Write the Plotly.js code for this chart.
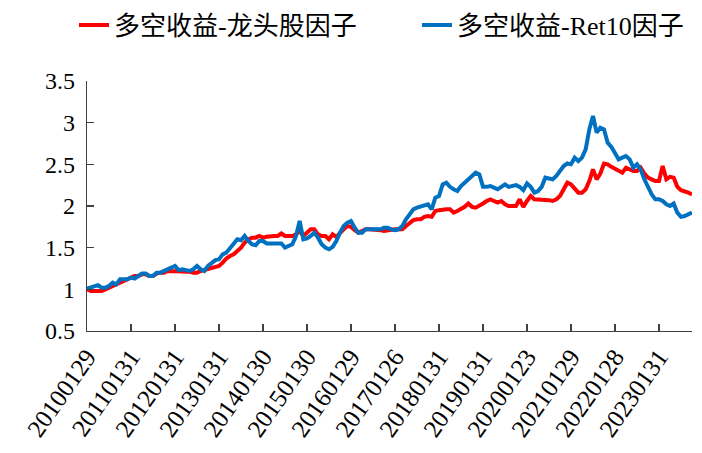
<!DOCTYPE html>
<html>
<head>
<meta charset="utf-8">
<script src="https://cdn.plot.ly/plotly-3.0.1.min.js"></script>
<style>html,body{margin:0;padding:0;background:#fff;}#chart{width:702px;height:453px;}</style>
</head>
<body>
<div id="chart"></div>
<script>
// Series names
const seriesNames = ["多空收益-龙头股因子", "多空收益-Ret10因子"];

// Tick labels shown on the x axis (every 12 months)
const tickLabels = ["20100129","20110131","20120131","20130131","20140130","20150130","20160129",
  "20170126","20180131","20190131","20200123","20210129","20220128","20230131"];

// Monthly long-short returns, 2010-01 .. 2023-10
const leaderValues = [
  1.00,0.98,0.98,0.98,0.98,1.00,1.02,1.04,1.06,1.08,1.10,1.12,
  1.14,1.16,1.16,1.18,1.18,1.16,1.16,1.19,1.20,1.20,1.22,1.22,
  1.22,1.22,1.22,1.22,1.21,1.20,1.20,1.22,1.23,1.24,1.25,1.26,
  1.28,1.32,1.37,1.40,1.42,1.46,1.50,1.56,1.60,1.62,1.62,1.64,
  1.62,1.63,1.64,1.64,1.64,1.67,1.64,1.64,1.64,1.66,1.70,1.64,
  1.68,1.72,1.72,1.66,1.64,1.64,1.60,1.66,1.63,1.68,1.72,1.76,
  1.75,1.71,1.68,1.70,1.72,1.72,1.72,1.72,1.71,1.70,1.71,1.72,
  1.72,1.72,1.72,1.76,1.80,1.83,1.84,1.84,1.87,1.88,1.87,1.94,
  1.95,1.96,1.96,1.96,1.92,1.94,1.96,1.99,2.03,1.99,1.98,2.00,
  2.03,2.06,2.08,2.06,2.04,2.06,2.02,2.00,2.00,2.00,2.08,1.99,
  2.06,2.12,2.08,2.08,2.08,2.08,2.07,2.06,2.08,2.12,2.20,2.28,
  2.26,2.20,2.16,2.16,2.20,2.30,2.44,2.32,2.39,2.51,2.50,2.47,
  2.45,2.43,2.40,2.46,2.44,2.42,2.42,2.46,2.39,2.34,2.32,2.30,
  2.30,2.48,2.32,2.35,2.34,2.23,2.19,2.18,2.16,2.14
];
const ret10Values = [
  1.01,1.02,1.03,1.05,1.02,1.02,1.04,1.08,1.06,1.12,1.12,1.12,
  1.14,1.13,1.16,1.19,1.19,1.16,1.16,1.20,1.20,1.22,1.23,1.26,
  1.28,1.23,1.24,1.23,1.22,1.24,1.28,1.24,1.22,1.28,1.31,1.35,
  1.36,1.42,1.44,1.50,1.54,1.60,1.59,1.64,1.58,1.54,1.53,1.58,
  1.58,1.55,1.55,1.55,1.56,1.55,1.50,1.52,1.54,1.64,1.82,1.60,
  1.61,1.64,1.68,1.62,1.54,1.50,1.48,1.51,1.58,1.68,1.76,1.80,
  1.82,1.74,1.68,1.68,1.72,1.72,1.72,1.71,1.72,1.74,1.74,1.72,
  1.71,1.72,1.76,1.84,1.90,1.96,1.98,1.99,2.00,2.02,1.96,2.10,
  2.12,2.26,2.28,2.23,2.20,2.18,2.24,2.28,2.32,2.36,2.40,2.38,
  2.23,2.23,2.24,2.22,2.20,2.23,2.26,2.23,2.24,2.25,2.23,2.19,
  2.27,2.23,2.16,2.18,2.23,2.34,2.33,2.32,2.36,2.43,2.48,2.51,
  2.50,2.58,2.54,2.58,2.68,2.92,3.08,2.88,2.94,2.92,2.76,2.71,
  2.64,2.56,2.58,2.60,2.56,2.46,2.50,2.44,2.32,2.22,2.14,2.08,
  2.08,2.06,2.02,2.00,2.03,1.92,1.87,1.88,1.90,1.92
];

// Category labels: one per month starting 2010-01
const startYear = 2010;
const months = leaderValues.map((_, i) => {
  const y = startYear + Math.floor(i / 12);
  const m = (i % 12) + 1;
  return y + "-" + String(m).padStart(2, "0");
});
const tickVals = tickLabels.map((_, k) => months[k * 12]);

const serif = "Liberation Serif, Noto Sans CJK SC, serif";
const axisColor = "#404040";

const traces = [
  {x: months, y: leaderValues, name: seriesNames[0], type: "scatter", mode: "lines",
   line: {color: "#FF0000", width: 4}},
  {x: months, y: ret10Values, name: seriesNames[1], type: "scatter", mode: "lines",
   line: {color: "#0070C0", width: 4}}
];

const layout = {
  width: 702, height: 453,
  margin: {l: 87, r: 10, t: 81, b: 122, pad: 0, autoexpand: false},
  paper_bgcolor: "#ffffff", plot_bgcolor: "#ffffff",
  font: {family: serif, color: "#000000"},
  showlegend: true,
  legend: {orientation: "h", x: -0.0215, xanchor: "left", y: 1.224, yanchor: "middle",
    font: {family: serif, size: 26, color: "#000000"}, itemwidth: 30,
    entrywidth: 298, entrywidthmode: "pixels", bgcolor: "rgba(0,0,0,0)"},
  xaxis: {
    type: "category", categoryorder: "array", categoryarray: months,
    range: [0, months.length - 1],
    tickmode: "array", tickvals: tickVals, ticktext: tickLabels,
    tickangle: -55, tickfont: {family: serif, size: 25, color: "#000000"},
    showgrid: false, zeroline: false, showline: true, linecolor: axisColor, linewidth: 1.3,
    ticks: "inside", ticklen: 7, tickcolor: axisColor, tickwidth: 1.3
  },
  yaxis: {
    range: [0.5, 3.5], tickmode: "linear", tick0: 0.5, dtick: 0.5,
    tickfont: {family: serif, size: 24, color: "#000000"},
    showgrid: false, zeroline: false, showline: true, linecolor: axisColor, linewidth: 1.3,
    ticks: "inside", ticklen: 7, tickcolor: axisColor, tickwidth: 1.3, ticklabelstandoff: 6
  }
};

Plotly.newPlot("chart", traces, layout, {displayModeBar: false, staticPlot: true});
</script>
</body>
</html>
